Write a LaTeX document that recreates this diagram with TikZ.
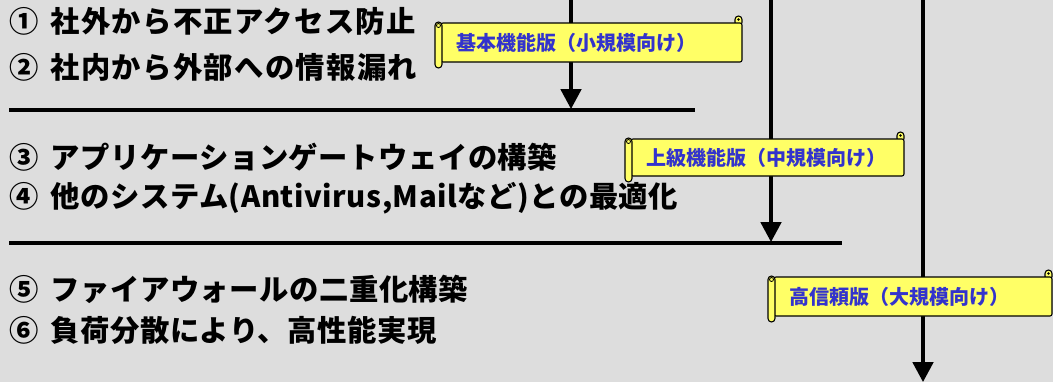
\documentclass[tikz,border=0pt]{standalone}
\usepackage{fontspec}
\setmainfont{Noto Sans CJK JP}[LetterSpace=1.8]
\newfontfamily\jpwide{Noto Sans CJK JP}[LetterSpace=4.5]
\newfontfamily\jpplain{Noto Sans CJK JP}
\usetikzlibrary{arrows.meta}
\definecolor{slidegray}{RGB}{221,221,221}
\definecolor{scrollyellow}{RGB}{255,255,102}
\definecolor{scrollblue}{RGB}{51,51,204}
\def\numgap{\hspace{9pt}}
% banner: (left,top)(right,bottom){name}{text}
\def\hscroll(#1,#2)(#3,#4)#5#6{%
  \draw[scrollpart, rounded corners=2.6pt] (#3-7,#2+3) rectangle (#3,#2-7);
  \fill (#3-3.5,#2-3.5) circle (1.4);
  \draw[scrollpart, rounded corners=1.5pt] (#1+6,#2) rectangle (#3,#4);
  \draw[scrollpart, rounded corners=2.6pt] (#1,#2-1) rectangle (#1+7,#4+6);
  \draw[line width=0.6pt] (#1+3.5,#2+2.5) circle (2);
  \node[scrolltext] (#5) at (#1+21,{(#2+#4)/2}) {#6};
}

\begin{document}
\begin{tikzpicture}[x=0.75pt, y=-0.75pt,
    item/.style={anchor=west, inner sep=0pt, font=\fontsize{22}{26}\selectfont\bfseries},
    wideitem/.style={item, font=\jpwide\fontsize{22}{26}\selectfont\bfseries},
    scrollpart/.style={draw=black, line width=0.8pt, fill=scrollyellow},
    scrolltext/.style={anchor=west, inner sep=0pt, text=scrollblue, font=\jpplain\fontsize{15}{17}\selectfont\bfseries},
    divider/.style={line width=2.4pt},
    flow/.style={line width=2.3pt, -{Triangle[length=15pt, width=15.5pt]}}]

  \fill[slidegray] (0,0) rectangle (1053,382);
  \useasboundingbox (0,0) rectangle (1053,382);

  %%%%% ITEMS %%%%%
  \node[wideitem] (item1) at (9,21) {①\numgap 社外から不正アクセス防止};
  \node[wideitem] (item2) at (9,67) {②\numgap 社内から外部への情報漏れ};
  \node[item] (item3) at (9,157) {③\numgap アプリケーションゲートウェイの構築};
  \node[item] (item4) at (9,198) {④\numgap 他のシステム(Antivirus,Mailなど)との最適化};
  \node[item] (item5) at (9,289) {⑤\numgap ファイアウォールの二重化構築};
  \node[item] (item6) at (9,330) {⑥\numgap 負荷分散により、高性能実現};

  %%%%% DIVIDERS %%%%%
  \coordinate (div1w) at (9,110);
  \coordinate (div1e) at (695,110);
  \coordinate (div2w) at (9,243);
  \coordinate (div2e) at (842,243);
  \draw[divider] (div1w) -- (div1e);
  \draw[divider] (div2w) -- (div2e);

  %%%%% ARROWS %%%%%
  \coordinate (top1) at (571,0);
  \coordinate (end1) at (571,109);
  \coordinate (top2) at (771,0);
  \coordinate (end2) at (771,242);
  \coordinate (top3) at (923,0);
  \coordinate (end3) at (923,382);
  \draw[flow] (top1) -- (end1);
  \draw[flow] (top2) -- (end2);
  \draw[flow] (top3) -- (end3);

  %%%%% BANNERS %%%%%
  \hscroll(435,23)(742,62){basic}{基本機能版（小規模向け）}
  \hscroll(625,139)(904,176){advanced}{上級機能版（中規模向け）}
  \hscroll(768,277)(1052,316){reliable}{高信頼版（大規模向け）}

\end{tikzpicture}
\end{document}
